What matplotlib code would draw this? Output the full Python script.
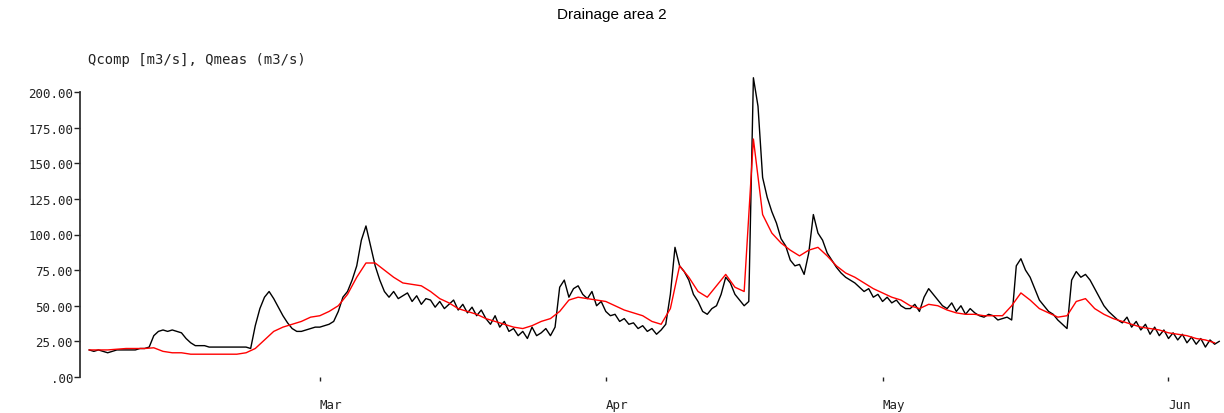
import matplotlib
matplotlib.use("Agg")
import matplotlib.pyplot as plt
import matplotlib.dates as mdates
import pandas as pd

title = "Drainage area 2"
ylabel_text = "Qcomp [m3/s], Qmeas (m3/s)"
y_ticks = [0, 25, 50, 75, 100, 125, 150, 175, 200]
y_tick_labels = [".00", "25.00", "50.00", "75.00", "100.00", "125.00", "150.00", "175.00", "200.00"]
month_ticks = ["2001-03-01", "2001-04-01", "2001-05-01", "2001-06-01"]
month_labels = ["Mar", "Apr", "May", "Jun"]

# measured discharge, 12-hourly from 2001-02-04
q_meas = [
    19, 18, 19, 18, 17, 18, 19, 19, 19, 19, 19, 20, 20, 21,
    29, 32, 33, 32, 33, 32,
    31, 27, 24, 22, 22, 22, 21, 21, 21, 21, 21, 21, 21, 21, 21, 20,
    36, 48, 56, 60, 55, 49, 43, 38, 34, 32, 32, 33, 34, 35, 35, 36, 37, 39,
    46, 56, 60, 68, 78, 96, 106, 92, 78, 68,
    60, 56, 60, 55, 57, 59, 53, 57, 51, 55, 54, 49, 53, 48, 51, 54, 47, 51,
    45, 49, 43, 47, 41, 37, 43, 35, 39, 32, 34, 29, 32, 27, 35, 29, 31, 34, 29, 35,
    63, 68, 56, 62, 64, 58, 55, 60, 50, 53, 46, 43, 44, 39, 41, 37, 38, 34,
    36, 32, 34, 30, 33, 37,
    58, 91, 78, 74, 68, 58, 53, 46, 44, 48, 50, 58, 70, 66, 58, 54, 50, 53,
    210, 190, 140, 126, 116, 108, 97, 92, 82, 78, 79, 72,
    87, 114, 101, 96, 87, 82, 77, 73, 70, 68, 66, 63, 60, 62, 56, 58, 53, 56,
    52, 54, 50, 48, 48, 51,
    46, 56, 62, 58, 54, 50, 48, 52, 46, 50, 44, 48, 45, 43, 42, 44, 43, 40, 41, 42,
    40, 78, 83, 75, 70, 62, 54, 50, 46, 44, 40, 37, 34, 68, 74, 70, 72, 68,
    62, 56, 50, 46, 43, 40,
    38, 42, 35, 39, 33, 37, 30, 35, 29, 33, 27, 31, 26, 30, 24, 28, 23, 27, 21, 26, 23, 25,
]

# computed discharge, daily from 2001-02-04
q_comp = [
    19, 19, 19, 19.5, 20, 20, 20, 20.5,
    18, 17, 17, 16, 16, 16, 16, 16, 16,
    17, 20, 26, 32, 35, 37, 39, 42, 43, 46,
    50, 58, 70, 80, 80,
    75, 70, 66, 65, 64, 60, 55, 52, 48, 46, 44, 41, 39, 37, 35, 34,
    36, 39, 41, 46, 54, 56, 55, 54, 53, 50, 47, 45, 43, 39, 37,
    48, 78, 70, 60, 56, 64, 72, 63, 60,
    167,
    114, 101, 94, 89, 85, 89, 91, 85, 78, 73, 70, 66, 62, 59, 56, 54, 50, 48, 51, 50,
    47, 45, 44, 44, 43, 43, 43,
    50, 59, 54, 48, 45, 42, 43, 53, 55, 48, 44, 41, 39, 37, 35, 34, 33, 31, 30, 29,
    27, 26, 24,
]

t_meas = pd.date_range("2001-02-04", periods=len(q_meas), freq="12h")
t_comp = pd.date_range("2001-02-04", periods=len(q_comp), freq="D")

fig = plt.figure(figsize=(12.24, 4.14), dpi=100)
ax = fig.add_axes([80 / 1224, 1 - 378 / 414, 1140 / 1224, 285 / 414])

ax.plot(t_meas, q_meas, color="black", lw=1.0, clip_on=False, zorder=2)
ax.plot(t_comp, q_comp, color="#ff0000", lw=1.0, clip_on=False, zorder=3)

ax.set_xlim(pd.Timestamp("2001-02-03"), pd.Timestamp("2001-06-06 14:00"))
ax.set_ylim(0, 200)

ax.set_yticks(y_ticks)
ax.set_yticklabels(y_tick_labels, family="DejaVu Sans Mono", fontsize=9)
ax.set_xticks([pd.Timestamp(m) for m in month_ticks])
ax.set_xticklabels(month_labels, family="DejaVu Sans Mono", fontsize=9, ha="left")

for s in ["top", "right", "bottom"]:
    ax.spines[s].set_visible(False)
ax.spines["left"].set_linewidth(1.3)
ax.spines["left"].set_color("#333333")
ax.tick_params(axis="y", length=4, width=1, pad=1, colors="#222222")
ax.tick_params(axis="x", length=3, width=1, pad=12, colors="#222222")

fig.text(0.5, 1 - 15 / 414, title, ha="center", va="center",
         family="Liberation Sans", fontsize=11)
fig.text(88 / 1224, 1 - 60 / 414, ylabel_text, ha="left", va="center",
         family="DejaVu Sans Mono", fontsize=10, color="#222222")

fig.savefig("out.png", dpi=100)
